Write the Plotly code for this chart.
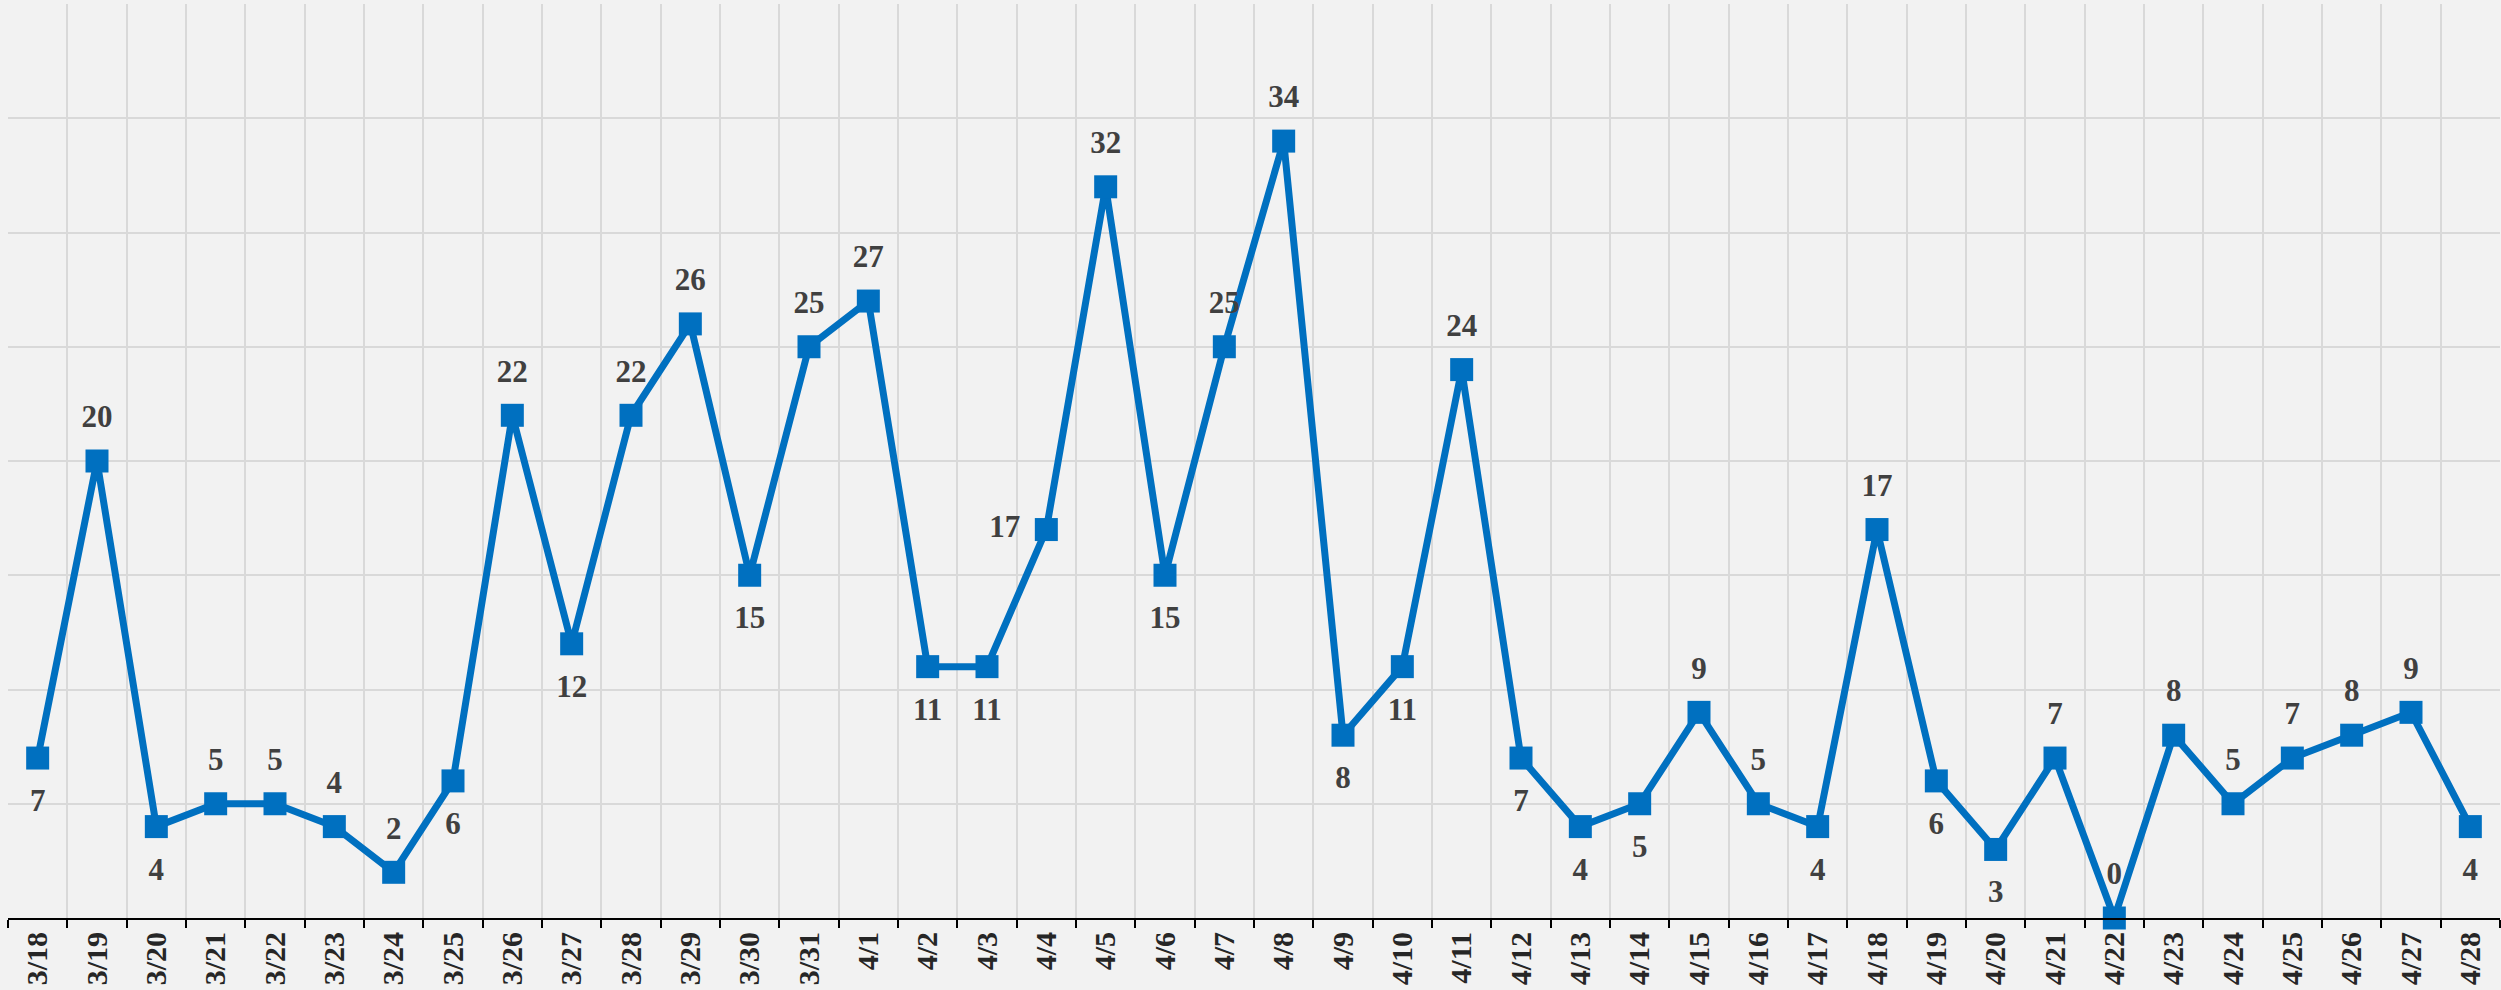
import plotly.graph_objects as go

dates = ["3/18","3/19","3/20","3/21","3/22","3/23","3/24","3/25","3/26","3/27","3/28","3/29","3/30","3/31",
         "4/1","4/2","4/3","4/4","4/5","4/6","4/7","4/8","4/9","4/10","4/11","4/12","4/13","4/14",
         "4/15","4/16","4/17","4/18","4/19","4/20","4/21","4/22","4/23","4/24","4/25","4/26","4/27","4/28"]
values = [7,20,4,5,5,4,2,6,22,12,22,26,15,25,
          27,11,11,17,32,15,25,34,8,11,24,7,4,5,
          9,5,4,17,6,3,7,0,8,5,7,8,9,4]
label_pos = ["bottom center","top center","bottom center","top center","top center","top center","top center",
             "bottom center","top center","bottom center","top center","top center","bottom center","top center",
             "top center","bottom center","bottom center","middle left","top center","bottom center","top center",
             "top center","bottom center","bottom center","top center","bottom center","bottom center","bottom center",
             "top center","top center","bottom center","top center","bottom center","bottom center","top center",
             "top center","top center","top center","top center","top center","top center","bottom center"]

BLUE = "#0070c0"
FONT = "Liberation Serif, Times New Roman, serif"

fig = go.Figure()
fig.add_trace(go.Scatter(
    x=dates, y=values, mode="lines+markers",
    line=dict(color=BLUE, width=7),
    marker=dict(symbol="square", size=23, color=BLUE),
    cliponaxis=False, hoverinfo="x+y",
))
# labels (invisible larger markers only set the text offset)
for is_bottom, msize in ((False, 40), (True, 46)):
    idx = [i for i, p in enumerate(label_pos) if p.startswith("bottom") == is_bottom]
    fig.add_trace(go.Scatter(
        x=[dates[i] for i in idx], y=[values[i] for i in idx], mode="markers+text",
        text=[str(values[i]) for i in idx], textposition=[label_pos[i] for i in idx],
        textfont=dict(family=FONT, size=31, color="#404040", weight="bold"),
        marker=dict(size=msize, opacity=0),
        cliponaxis=False, hoverinfo="skip",
    ))

fig.update_layout(
    width=2501, height=990,
    paper_bgcolor="#f2f2f2", plot_bgcolor="#f2f2f2",
    margin=dict(l=8, r=1, t=4, b=72),
    showlegend=False,
)
fig.update_xaxes(
    type="category", range=[-0.5, len(dates) - 0.5], tickson="boundaries",
    showgrid=True, gridcolor="#d9d9d9", gridwidth=1.5,
    showline=True, linecolor="black", linewidth=2,
    ticks="outside", ticklen=8, tickcolor="black", tickwidth=2,
    tickangle=-90, automargin=False,
    tickfont=dict(family=FONT, size=30, color="#262626", weight="bold"),
    zeroline=False,
)
fig.update_yaxes(
    range=[0, 40], dtick=5, showticklabels=False, automargin=False,
    showgrid=True, gridcolor="#d9d9d9", gridwidth=1.5,
    zeroline=False, showline=False,
)

fig.write_html(
    "out.html",
    config={"displayModeBar": False},
    post_script="document.body.style.margin='0';document.body.style.background='#f2f2f2';document.body.style.overflow='hidden';",
)
